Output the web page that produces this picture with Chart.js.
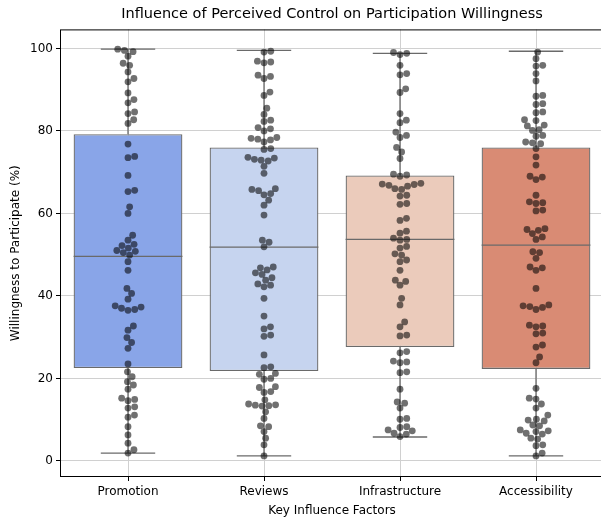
<!DOCTYPE html>
<html>
<head>
<meta charset="utf-8">
<script src="https://cdn.jsdelivr.net/npm/chart.js@4/dist/chart.umd.min.js"></script>
<style>
  html, body { margin: 0; padding: 0; background: #fff; }
  /* the original figure is cut off a few pixels past its right edge */
  #wrap { width: 601px; height: 518px; overflow: hidden; }
</style>
</head>
<body>
<div id="wrap"><canvas id="boxChart" width="604" height="518"></canvas></div>
<script>
// categories and box statistics
const categories = ['Promotion', 'Reviews', 'Infrastructure', 'Accessibility'];
const q1 = [22.5, 21.8, 27.6, 22.3];
const medians = [49.6, 51.8, 53.7, 52.3];
const q3 = [79.2, 76.0, 69.2, 76.0];
const whiskerLow = [1.9, 1.2, 5.8, 1.2];
const whiskerHigh = [99.8, 99.5, 98.8, 99.3];
const yTicks = [0, 20, 40, 60, 80, 100];

// individual responses (swarm points)
const promotionScores = [99.8, 99.5, 99.2, 98.1, 96.4, 95.9, 94.3, 92.7, 91.9, 89.2, 87.6, 86.8, 84.6, 84.2, 82.7, 81.8,
    76.8, 73.8, 73.5, 69.2, 65.6, 65.3, 61.6, 60.0, 54.7, 53.5, 52.5, 52.2, 51.6, 51.0, 50.8, 50.5, 49.9, 48.3, 46.2,
    41.8, 40.6, 39.2, 37.6, 37.3, 37.0, 36.7, 36.5, 32.7, 31.7, 29.9, 28.7, 27.3, 23.5, 21.6, 20.4, 19.2, 18.4, 17.4,
    15.2, 14.9, 14.6, 13.1, 12.8, 11.1, 10.6, 8.3, 6.3, 4.3, 2.7, 1.9];
const reviewsScores = [99.3, 99.1, 96.9, 96.7, 96.5, 93.5, 93.2, 92.7, 89.4, 88.6, 85.5, 84.0, 82.6, 82.3, 80.8, 80.5,
    80.0, 78.4, 78.2, 78.0, 77.8, 77.3, 75.7, 75.5, 73.6, 73.4, 73.1, 72.9, 72.7, 71.4, 69.7, 66.0, 65.8, 65.5, 64.8,
    64.5, 63.2, 62.0, 59.6, 53.5, 53.0, 51.9, 47.0, 46.8, 46.3, 45.6, 45.2, 44.4, 43.8, 42.9, 42.6, 42.2, 39.4, 35.1,
    32.5, 32.0, 30.5, 30.2, 25.7, 22.8, 22.6, 21.2, 21.0, 20.0, 19.8, 18.0, 17.8, 16.8, 16.6, 14.8, 13.8, 13.6, 13.4,
    13.3, 13.5, 11.9, 10.3, 8.5, 8.3, 7.1, 5.5, 3.9, 1.2];
const infrastructureScores = [99.0, 98.8, 98.5, 95.9, 93.9, 93.6, 90.2, 89.3, 84.2, 82.6, 82.0, 79.7, 78.9, 78.4, 76.0,
    74.9, 73.3, 69.5, 69.3, 69.0, 67.3, 67.1, 67.0, 66.8, 66.6, 66.0, 65.8, 64.4, 64.2, 62.4, 62.2, 58.8, 58.3, 55.7,
    55.2, 54.0, 53.7, 53.5, 52.0, 51.6, 50.2, 49.9, 48.7, 48.3, 46.2, 43.8, 43.5, 42.6, 39.4, 37.8, 33.7, 32.5, 30.5,
    30.3, 26.5, 26.2, 24.2, 24.0, 23.8, 21.6, 21.4, 17.4, 14.3, 14.0, 12.8, 10.3, 10.1, 8.3, 8.1, 7.5, 7.3, 6.7, 6.5, 5.9];
const accessibilityScores = [99.1, 97.5, 95.9, 95.7, 93.9, 92.1, 88.6, 88.4, 86.6, 86.4, 84.6, 84.4, 82.7, 82.5, 81.4,
    81.2, 80.3, 80.1, 78.9, 78.7, 77.3, 77.1, 76.9, 75.7, 73.7, 71.7, 69.0, 68.8, 68.2, 64.4, 62.8, 62.6, 62.4, 60.8,
    60.6, 56.3, 56.1, 55.9, 55.1, 54.3, 53.7, 50.7, 50.5, 49.1, 47.0, 46.8, 46.2, 41.8, 37.8, 37.6, 37.4, 37.2, 36.7,
    32.9, 32.7, 32.5, 31.0, 30.8, 28.1, 27.6, 25.2, 23.8, 17.6, 15.2, 15.0, 13.8, 12.8, 11.1, 10.1, 9.9, 9.7, 8.7, 8.5,
    7.5, 7.3, 7.1, 6.7, 6.5, 5.5, 5.3, 3.9, 3.7, 1.9, 1.2];
const scoresByCategory = [promotionScores, reviewsScores, infrastructureScores, accessibilityScores];

const boxColors = ['#89a5e8', '#c6d4ef', '#ebcbbb', '#d98b74'];
const lineColor = '#6a6a6a';
const pointColor = 'rgba(0, 0, 0, 0.56)';
const pointRadius = 3.4;

// beeswarm layout: nudge each point sideways (in pixels) until it no longer overlaps
const swarmOffsets = (pixelYs, diameter) => {
    const order = pixelYs.map((py, i) => i).sort((a, b) => pixelYs[b] - pixelYs[a]);
    const placed = [];
    const offsets = new Array(pixelYs.length).fill(0);
    order.forEach((idx) => {
        const py = pixelYs[idx];
        const near = placed.filter((p) => Math.abs(p.y - py) < diameter);
        const candidates = [0];
        near.forEach((p) => {
            const dx = Math.sqrt(diameter * diameter - (p.y - py) * (p.y - py));
            candidates.push(p.x + dx, p.x - dx);
        });
        candidates.sort((a, b) => Math.abs(a) - Math.abs(b));
        const chosen = candidates.find((c) =>
            near.every((p) => (p.x - c) * (p.x - c) + (p.y - py) * (p.y - py) >= diameter * diameter - 0.01)
        );
        offsets[idx] = chosen;
        placed.push({ x: chosen, y: py });
    });
    return offsets;
};

const boxExtras = {
    id: 'boxExtras',
    afterDatasetsDraw(chart) {
        const { ctx, chartArea, scales: { x, y } } = chart;
        const meta = chart.getDatasetMeta(0);

        ctx.save();
        ctx.strokeStyle = lineColor;
        ctx.lineWidth = 1.3;
        categories.forEach((name, i) => {
            const cx = x.getPixelForValue(i);
            const half = meta.data[i].width / 2;
            const segs = [
                [cx, y.getPixelForValue(q3[i]), cx, y.getPixelForValue(whiskerHigh[i])],
                [cx, y.getPixelForValue(q1[i]), cx, y.getPixelForValue(whiskerLow[i])],
                [cx - half / 2, y.getPixelForValue(whiskerHigh[i]), cx + half / 2, y.getPixelForValue(whiskerHigh[i])],
                [cx - half / 2, y.getPixelForValue(whiskerLow[i]), cx + half / 2, y.getPixelForValue(whiskerLow[i])],
                [cx - half, y.getPixelForValue(medians[i]), cx + half, y.getPixelForValue(medians[i])],
            ];
            segs.forEach(([x1, y1, x2, y2]) => {
                ctx.beginPath();
                ctx.moveTo(x1, y1);
                ctx.lineTo(x2, y2);
                ctx.stroke();
            });
        });

        // swarm points on top
        ctx.fillStyle = pointColor;
        scoresByCategory.forEach((scores, i) => {
            const cx = x.getPixelForValue(i);
            const pys = scores.map((v) => y.getPixelForValue(v));
            const offs = swarmOffsets(pys, pointRadius * 2);
            pys.forEach((py, k) => {
                ctx.beginPath();
                ctx.arc(cx + offs[k], py, pointRadius, 0, Math.PI * 2);
                ctx.fill();
            });
        });

        // axes frame
        ctx.strokeStyle = '#000';
        ctx.lineWidth = 1;
        ctx.strokeRect(chartArea.left + 0.5, chartArea.top + 0.5,
            chartArea.right - chartArea.left - 1, chartArea.bottom - chartArea.top - 1);
        ctx.restore();
    },
};

document.addEventListener('DOMContentLoaded', function () {
    Chart.defaults.font.family = '"DejaVu Sans", sans-serif';
    Chart.defaults.color = '#000';

    new Chart(document.getElementById('boxChart').getContext('2d'), {
        type: 'bar',
        data: {
            labels: categories,
            datasets: [{
                label: 'Willingness',
                data: q1.map((lo, i) => [lo, q3[i]]),
                backgroundColor: boxColors,
                borderColor: lineColor,
                borderWidth: 1.3,
                borderSkipped: false,
                barPercentage: 0.8,
                categoryPercentage: 1,
            }],
        },
        options: {
            responsive: false,
            animation: false,
            devicePixelRatio: 1,
            layout: { padding: 0 },
            plugins: {
                legend: { display: false },
                tooltip: { enabled: false },
                title: {
                    display: true,
                    fullSize: false,
                    text: 'Influence of Perceived Control on Participation Willingness',
                    font: { size: 14.5, weight: 'normal' },
                    color: '#000',
                    padding: { top: 6, bottom: 6 },
                },
            },
            scales: {
                x: {
                    grid: { offset: false, color: '#d0d0d0', tickColor: '#000', tickLength: 4 },
                    border: { display: false },
                    ticks: { font: { size: 12 }, color: '#000', padding: 4 },
                    title: {
                        display: true,
                        text: 'Key Influence Factors',
                        font: { size: 12 },
                        color: '#000',
                        padding: { top: 0, bottom: 0 },
                    },
                    afterFit: (scale) => { scale.height = 41; },
                },
                y: {
                    min: -3.9,
                    max: 104.6,
                    afterBuildTicks: (scale) => { scale.ticks = yTicks.map((v) => ({ value: v })); },
                    grid: { color: '#d0d0d0', tickColor: '#000', tickLength: 4 },
                    border: { display: false },
                    ticks: { font: { size: 12 }, color: '#000', padding: 3 },
                    title: {
                        display: true,
                        text: 'Willingness to Participate (%)',
                        font: { size: 12 },
                        color: '#000',
                        padding: { top: 9, bottom: 0 },
                    },
                    afterFit: (scale) => { scale.width = 60; },
                },
            },
        },
        plugins: [boxExtras],
    });
});
</script>
</body>
</html>
